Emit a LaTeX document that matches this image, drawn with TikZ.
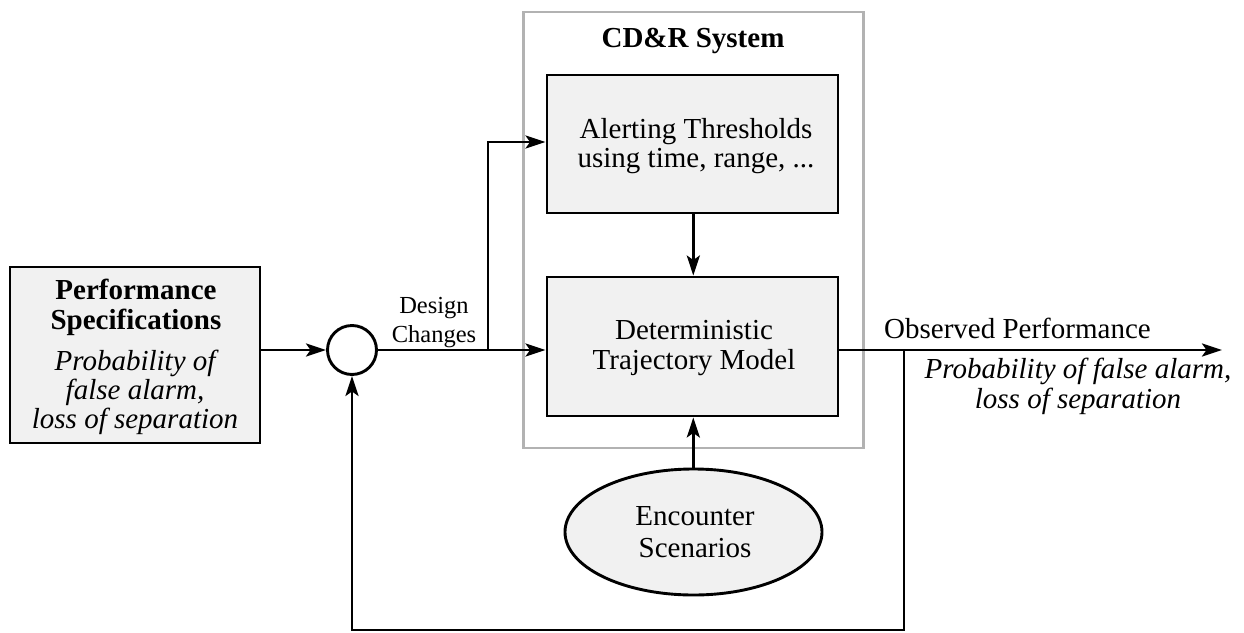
\documentclass[tikz,border=0pt]{standalone}
\usepackage{fontspec}
\setmainfont{Liberation Serif}
\usetikzlibrary{arrows.meta,shapes.geometric}
\definecolor{boxfill}{HTML}{F1F1F1}
\tikzset{
  x=1pt,y=-1pt,
  block/.style={draw=black,line width=2.9pt,fill=boxfill,inner sep=0pt},
  wire/.style={line width=2.9pt,draw=black},
  flow/.style={wire,-{Stealth[length=20pt,width=13pt,inset=4.5pt]}},
  txt/.style={font=\fontsize{29}{29.5}\selectfont,align=center,inner sep=0pt},
  small/.style={font=\fontsize{24.5}{29.5}\selectfont,align=center,inner sep=0pt}
}
\begin{document}
\begin{tikzpicture}
\useasboundingbox (0,0) rectangle (1244,632);
\node[draw=black!30,line width=2.9pt,minimum width=340pt,minimum height=436pt,inner sep=0pt] (sys) at (693.5,230) {};
\node[txt,font=\fontsize{29}{29.5}\selectfont\bfseries,anchor=base] (sysl) at (693,47) {CD\&R System};
\node[block,minimum width=291pt,minimum height=138pt] (alert) at (692.5,144) {};
\node[txt] (alertl) at (696,146) {Alerting Thresholds\\using time, range, ...};
\node[block,minimum width=291pt,minimum height=139pt] (det) at (692.5,346.5) {};
\node[txt] (detl) at (694,348) {Deterministic\\Trajectory Model};
\node[block,ellipse,minimum width=257pt,minimum height=126pt] (enc) at (693.5,532) {};
\node[txt,font=\fontsize{29}{32}\selectfont] (encl) at (695,532) {Encounter\\Scenarios};
\node[block,minimum width=250pt,minimum height=176pt] (perf) at (135,355) {};
\node[txt,font=\fontsize{29}{30}\selectfont\bfseries] (perfa) at (136,307.5) {Performance\\Specifications};
\node[txt,font=\fontsize{29}{29}\selectfont\itshape] (perfb) at (135,392) {Probability of\\false alarm,\\loss of separation};
\node[draw=black,line width=2.9pt,fill=white,circle,minimum size=49pt,inner sep=0pt] (sum) at (352,350) {};
\node[small] (dc) at (434,322.5) {Design\\Changes};
\node[txt,anchor=base west] (obs) at (884,338) {Observed Performance};
\node[txt,font=\fontsize{29}{30}\selectfont\itshape] (prob) at (1078,386) {Probability of false alarm,\\loss of separation};
\coordinate (axis) at (693.3,0);
\coordinate (branch) at (488,350);
\coordinate (up) at (488,142);
\coordinate (outend) at (1222,350);
\coordinate (tap) at (904,350);
\coordinate (bl) at (904,630);
\coordinate (br) at (352,630);
\draw[flow] (perf.east |- sum) -- (sum);
\draw[flow] (sum) -- (det.west |- sum);
\draw[flow] (branch) -- (up) -- (alert.west |- up);
\draw[flow] (alert.south -| axis) -- (det.north -| axis);
\draw[flow] (enc.north -| axis) -- (det.south -| axis);
\draw[flow] (det.east |- sum) -- (outend);
\draw[flow] (tap) -- (bl) -- (br) -- (sum);
\end{tikzpicture}
\end{document}
